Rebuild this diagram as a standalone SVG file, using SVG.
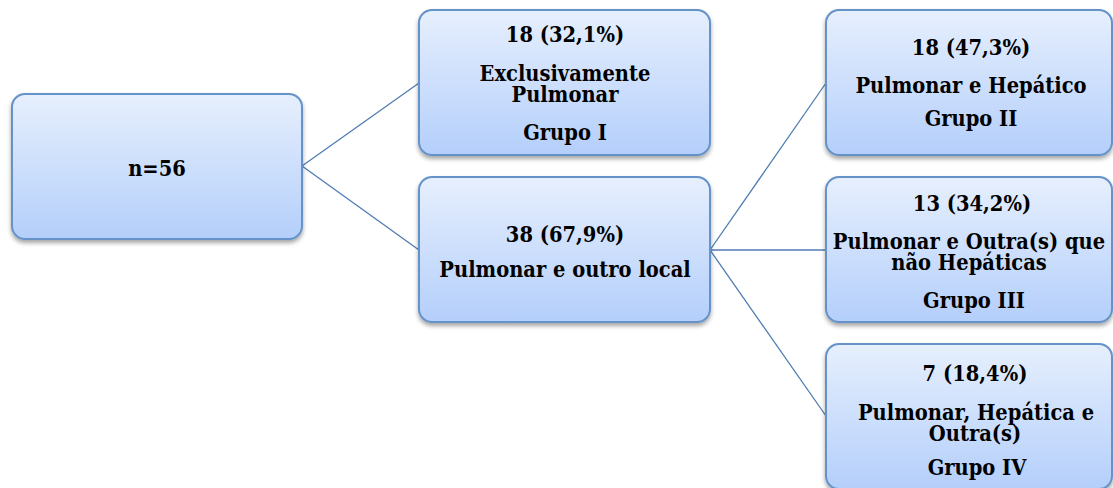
<svg xmlns="http://www.w3.org/2000/svg" width="1113" height="488" viewBox="0 0 1113 488">
<style>
.box{fill:url(#g);stroke:#6592c8;stroke-width:2;filter:url(#sh)}
.t{font-family:"DejaVu Serif","Liberation Serif",serif;font-weight:bold;font-size:19.5px;fill:#000;text-anchor:middle}
.c{stroke:#4f7db3;stroke-width:1.3;fill:none}
</style>
<defs>
<linearGradient id="g" x1="0" y1="0" x2="0" y2="1">
<stop offset="0" stop-color="#e6effd"/>
<stop offset="1" stop-color="#b4cffb"/>
</linearGradient>
<filter id="sh" x="-10%" y="-10%" width="120%" height="130%">
<feDropShadow dx="0" dy="3" stdDeviation="2.2" flood-color="#000" flood-opacity="0.35"/>
</filter>
</defs>
<rect width="1113" height="488" fill="#fff"/>
<g id="connectors">
<line class="c" x1="302" y1="166" x2="419" y2="83"/>
<line class="c" x1="302" y1="166" x2="419" y2="250"/>
<line class="c" x1="710" y1="250" x2="826" y2="83"/>
<line class="c" x1="710" y1="250" x2="826" y2="250"/>
<line class="c" x1="710" y1="250" x2="826" y2="416"/>
</g>
<g id="root">
<rect class="box" x="12" y="94" width="290" height="145" rx="13"/>
<text class="t" transform="matrix(1 0 0 1.12 157 176)">n=56</text>
</g>
<g id="grupo1">
<rect class="box" x="419" y="10" width="291" height="145" rx="13"/>
<text class="t" transform="matrix(1 0 0 1.12 565 42)">18 (32,1%)</text>
<text class="t" transform="matrix(1 0 0 1.12 565 81)">Exclusivamente</text>
<text class="t" transform="matrix(1 0 0 1.12 565 102)">Pulmonar</text>
<text class="t" transform="matrix(1 0 0 1.12 565 140)">Grupo I</text>
</g>
<g id="outro">
<rect class="box" x="419" y="177" width="291" height="145" rx="13"/>
<text class="t" transform="matrix(1 0 0 1.12 565 242)">38 (67,9%)</text>
<text class="t" transform="matrix(1 0 0 1.12 565 277)">Pulmonar e outro local</text>
</g>
<g id="grupo2">
<rect class="box" x="826" y="10" width="286" height="145" rx="13"/>
<text class="t" transform="matrix(1 0 0 1.12 971 55)">18 (47,3%)</text>
<text class="t" transform="matrix(1 0 0 1.12 971 93)">Pulmonar e Hepático</text>
<text class="t" transform="matrix(1 0 0 1.12 971 126)">Grupo II</text>
</g>
<g id="grupo3">
<rect class="box" x="826" y="177" width="286" height="145" rx="13"/>
<text class="t" transform="matrix(1 0 0 1.12 972 211)">13 (34,2%)</text>
<text class="t" transform="matrix(1 0 0 1.12 969 249)">Pulmonar e Outra(s) que</text>
<text class="t" transform="matrix(1 0 0 1.12 969 270)">não Hepáticas</text>
<text class="t" transform="matrix(1 0 0 1.12 974 308)">Grupo III</text>
</g>
<g id="grupo4">
<rect class="box" x="826" y="344" width="286" height="145" rx="13"/>
<text class="t" transform="matrix(1 0 0 1.12 975 381)">7 (18,4%)</text>
<text class="t" transform="matrix(1 0 0 1.12 976 420)">Pulmonar, Hepática e</text>
<text class="t" transform="matrix(1 0 0 1.12 975 441)">Outra(s)</text>
<text class="t" transform="matrix(1 0 0 1.12 977 475)">Grupo IV</text>
</g>
</svg>
